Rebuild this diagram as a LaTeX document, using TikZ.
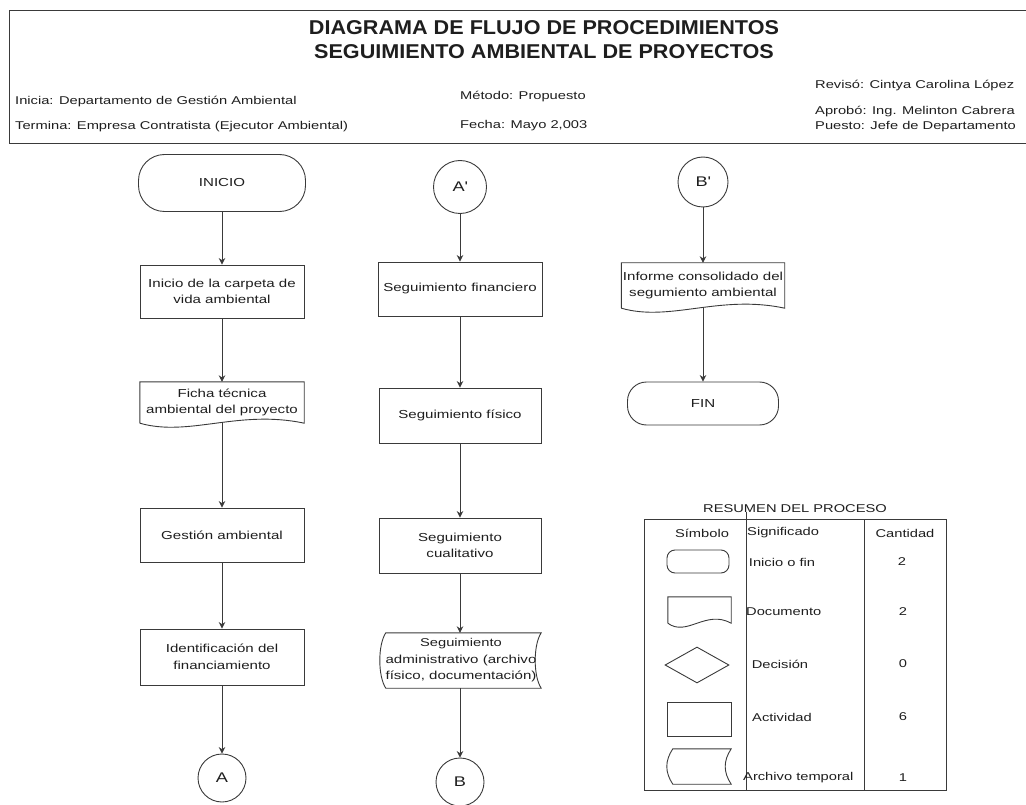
\documentclass[tikz,border=0pt]{standalone}
\usepackage{fontspec}
\setmainfont{Liberation Sans}[FakeStretch=1.3]
\newfontfamily\titlefont{Liberation Sans}[FakeStretch=1.08]
\usetikzlibrary{arrows.meta,calc,shapes.geometric}

\definecolor{ink}{HTML}{1E1E1E}
\definecolor{edge}{HTML}{3A3A3A}

\newcommand\txt{\fontsize{11.3}{16.5}\selectfont}
\newcommand\boxtxt{\fontsize{11.6}{16.5}\selectfont}
\newcommand\bigtxt{\fontsize{14}{16}\selectfont}

% document symbol: straight top and sides, wavy bottom
\newcommand\docpath[1]{%
  \draw[shapeline] (#1.south west) -- (#1.north west) -- (#1.north east) -- (#1.south east)
    .. controls ($(#1.south east)!0.4!(#1.south west)+(0,-14)$)
       and ($(#1.south east)!0.7!(#1.south west)+(0,14)$) .. (#1.south west);}
% temporary file symbol: straight top and bottom, curved sides
\newcommand\archpath[1]{%
  \draw[shapeline] ($(#1.north west)+(5,0)$) -- (#1.north east)
    .. controls ($(#1.north east)+(-8,12)$) and ($(#1.south east)+(-8,-12)$) .. (#1.south east)
    -- ($(#1.south west)+(5,0)$)
    .. controls ($(#1.south west)+(-3,-12)$) and ($(#1.north west)+(-3,12)$) .. cycle;}

\tikzset{
  shapeline/.style={draw=edge, line width=0.9pt},
  box/.style={shapeline, rectangle, inner sep=0pt, align=center, text=ink, font=\boxtxt},
  term/.style={box},
  ghost/.style={rectangle, inner sep=0pt, align=center, text=ink, font=\boxtxt},
  conn/.style={shapeline, circle, inner sep=0pt, text=ink, font=\bigtxt},
  flow/.style={draw=edge, line width=0.9pt, -{Stealth[length=6.5pt,width=6.5pt]}},
  lbl/.style={inner sep=0pt, text=ink, font=\txt},
}

\begin{document}
\begin{tikzpicture}[x=1pt, y=-1pt]
\useasboundingbox (0,0) rectangle (1026,805);

% ---------- header block ----------
\draw[shapeline] (1026,10) -- (9,10) -- (9,143) -- (1026,143);
\node[lbl, font=\titlefont\bfseries\fontsize{20}{24}\selectfont] (t1) at (544,28) {DIAGRAMA DE FLUJO DE PROCEDIMIENTOS};
\node[lbl, font=\titlefont\bfseries\fontsize{20}{24}\selectfont] (t2) at (544,52) {SEGUIMIENTO AMBIENTAL DE PROYECTOS};
\node[lbl, anchor=west] (h1) at (15,102) {Inicia: Departamento de Gestión Ambiental};
\node[lbl, anchor=west] (h2) at (15,127) {Termina: Empresa Contratista (Ejecutor Ambiental)};
\node[lbl, anchor=west] (h3) at (460,97) {Método: Propuesto};
\node[lbl, anchor=west] (h4) at (460,126) {Fecha: Mayo 2,003};
\node[lbl, anchor=west] (h5) at (815,86) {Revisó: Cintya Carolina López};
\node[lbl, anchor=west] (h6) at (815,112) {Aprobó: Ing. Melinton Cabrera};
\node[lbl, anchor=west] (h7) at (815,127) {Puesto: Jefe de Departamento};

% ---------- column 1 ----------
\node[term, minimum width=167, minimum height=57, rounded corners=26] (ini) at (222,183) {INICIO};
\node[box, minimum width=164, minimum height=53] (c1) at (222,291.5) {Inicio de la carpeta de\\vida ambiental};
\node[ghost, minimum width=164, minimum height=41] (ficha) at (222,402.5) {Ficha técnica\\ambiental del proyecto};
\docpath{ficha}
\node[box, minimum width=164, minimum height=54] (gest) at (222,535) {Gestión ambiental};
\node[box, minimum width=164, minimum height=56] (ident) at (222,657) {Identificación del\\financiamiento};
\node[conn, minimum size=48] (ca) at (222,778) {A};

\draw[flow] (ini) -- (c1);
\draw[flow] (c1) -- (ficha);
\draw[flow] (ficha.south) -- (gest);
\draw[flow] (gest) -- (ident);
\draw[flow] (ident) -- (ca);

% ---------- column 2 ----------
\node[conn, minimum size=53] (cap) at (460,187) {A\textquotesingle};
\node[box, minimum width=164, minimum height=54] (sfin) at (460,289) {Seguimiento financiero};
\node[box, minimum width=162, minimum height=55] (sfis) at (460,415.5) {Seguimiento físico};
\node[box, minimum width=162, minimum height=55] (scual) at (460,545.5) {Seguimiento\\cualitativo};
\node[ghost, minimum width=160, minimum height=55] (sadm) at (461,660.5) {\fontsize{11.3}{15.5}\selectfont Seguimiento\\administrativo (archivo\\físico, documentación)};
\archpath{sadm}
\node[conn, minimum size=48] (cb) at (460,782) {B};

\draw[flow] (cap) -- (sfin);
\draw[flow] (sfin) -- (sfis);
\draw[flow] (sfis) -- (scual);
\draw[flow] (scual) -- (sadm.north -| scual.south);
\draw[flow] (sadm.south -| scual.south) -- (cb);

% ---------- column 3 ----------
\node[conn, minimum size=50] (cbp) at (703,182) {B\textquotesingle};
\node[ghost, minimum width=163, minimum height=45] (inf) at (703,285.5) {Informe consolidado del\\segumiento ambiental};
\docpath{inf}
\node[term, minimum width=151, minimum height=43, rounded corners=19] (fin) at (703,403.5) {FIN};

\draw[flow] (cbp) -- (inf);
\draw[flow] (inf.south) -- (fin);

% ---------- process summary ----------
\node[lbl] (rtitle) at (795,509) {RESUMEN DEL PROCESO};
\draw[shapeline] (644,519) rectangle (946,790);
\coordinate (colA) at (746,512);
\coordinate (colB) at (864,519);
\draw[shapeline] (colA) -- (colA |- 0,790);
\draw[shapeline] (colB) -- (colB |- 0,790);

\node[lbl] (hs) at (702,533) {Símbolo};
\node[lbl, anchor=west] (hm) at (747,533) {Significado};
\node[lbl] (hc) at (905,533) {Cantidad};

\node[term, minimum width=62, minimum height=23, rounded corners=8] (lterm) at (698,561.5) {};
\node[lbl] (m1) at (782,562) {Inicio o fin};
\node[lbl] (q1) at (902,562) {2};

\node[ghost, minimum width=63, minimum height=26] (ldoc) at (699.5,610) {};
\docpath{ldoc}
\node[lbl, anchor=west] (m2) at (746,612) {Documento};
\node[lbl] (q2) at (903,612) {2};

\node[shapeline, diamond, inner sep=0pt, minimum width=64, minimum height=36] (ldia) at (697,665) {};
\node[lbl] (m3) at (780,664) {Decisión};
\node[lbl] (q3) at (903,664) {0};

\node[box, minimum width=64, minimum height=34] (lrect) at (699,719) {};
\node[lbl] (m4) at (782,717) {Actividad};
\node[lbl] (q4) at (903,717) {6};

\node[ghost, minimum width=63, minimum height=35] (larch) at (699.5,766.5) {};
\archpath{larch}
\node[lbl, anchor=west] (m5) at (743,778) {Archivo temporal};
\node[lbl] (q5) at (903,778) {1};
\end{tikzpicture}
\end{document}
